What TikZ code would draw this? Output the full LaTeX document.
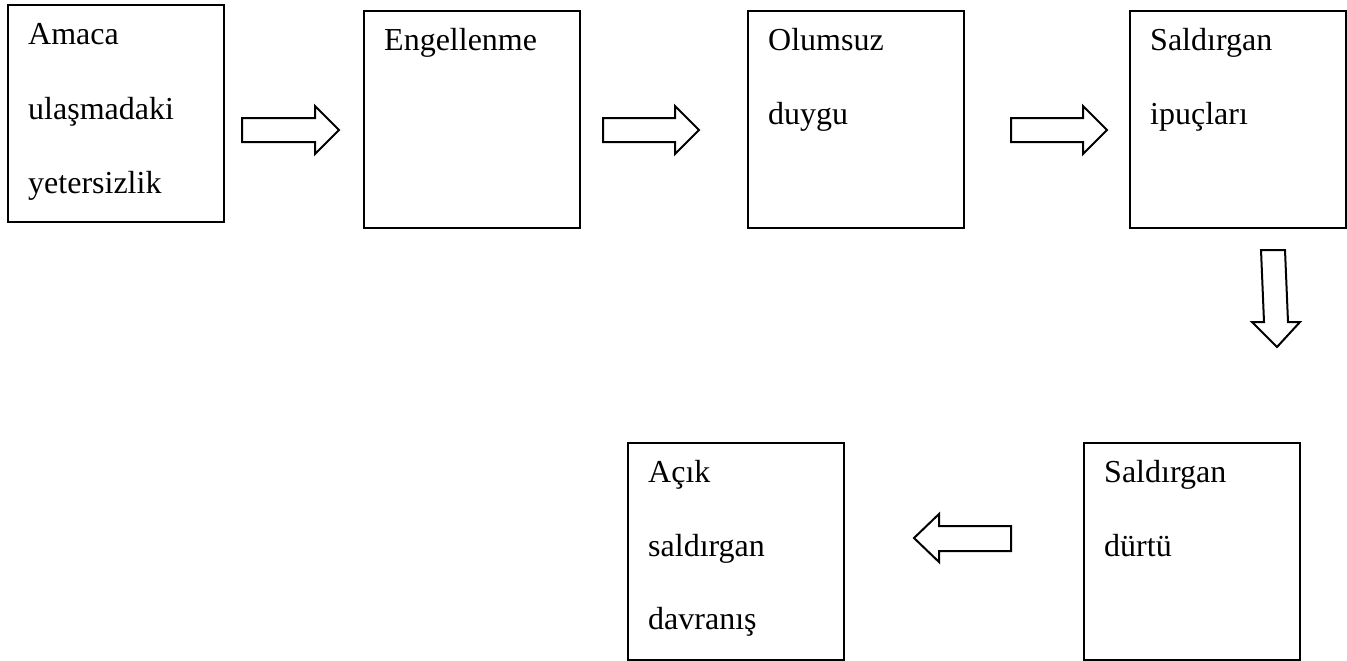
\documentclass[tikz,border=0pt]{standalone}
\usepackage{fontspec}
\setmainfont{Liberation Serif}
\begin{document}
\begin{tikzpicture}[x=1pt,y=-1pt,
  box/.style={draw, line width=2pt, minimum width=216pt, minimum height=217pt, anchor=north west, inner sep=0pt},
  lbl/.style={anchor=base west, inner sep=0pt, font=\fontsize{32}{38}\selectfont},
  barrow/.style={draw, line width=2pt, line join=miter}]
\useasboundingbox (0,0) rectangle (1347,661);
% boxes
\node[box] (b1) at (7,4) {};
\node[box] (b2) at (363,10) {};
\node[box] (b3) at (747,10) {};
\node[box] (b4) at (1129,10) {};
\node[box] (b5) at (1083,442) {};
\node[box] (b6) at (627,442) {};
% labels
\node[lbl] (t1a) at (28,45) {Amaca};
\node[lbl] (t1b) at (28,119) {ulaşmadaki};
\node[lbl] (t1c) at (28,193) {yetersizlik};
\node[lbl] (t2a) at (384,51) {Engellenme};
\node[lbl] (t3a) at (768,51) {Olumsuz};
\node[lbl] (t3b) at (768,124) {duygu};
\node[lbl] (t4a) at (1150,51) {Saldırgan};
\node[lbl] (t4b) at (1150,124) {ipuçları};
\node[lbl] (t5a) at (1104,482) {Saldırgan};
\node[lbl] (t5b) at (1104,556) {dürtü};
\node[lbl] (t6a) at (648,482) {Açık};
\node[lbl] (t6b) at (648,556) {saldırgan};
\node[lbl] (t6c) at (648,629) {davranış};
% block arrows
\draw[barrow] (242,118) -- (315,118) -- (315,106) -- (339,130) -- (315,154) -- (315,142) -- (242,142) -- cycle;
\draw[barrow] (603,118) -- (675,118) -- (675,106) -- (699,130) -- (675,154) -- (675,142) -- (603,142) -- cycle;
\draw[barrow] (1011,118) -- (1083,118) -- (1083,106) -- (1107,130) -- (1083,154) -- (1083,142) -- (1011,142) -- cycle;
\draw[barrow] (1261,250) -- (1285,250) -- (1288,322) -- (1300,322) -- (1277,347) -- (1252,322) -- (1264,322) -- cycle;
\draw[barrow] (1011,526) -- (939,526) -- (939,514) -- (914,538) -- (939,562) -- (939,551) -- (1011,551) -- cycle;
\end{tikzpicture}
\end{document}
